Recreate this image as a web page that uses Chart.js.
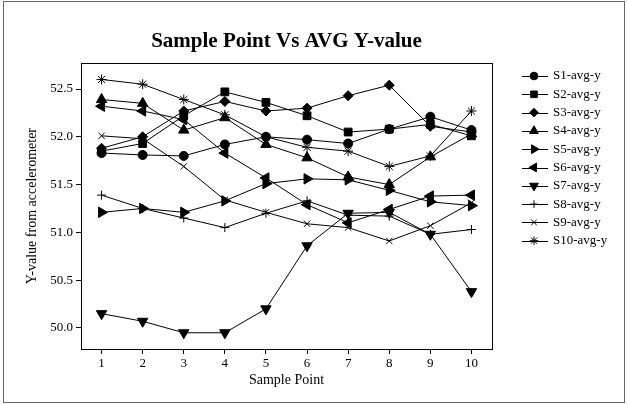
<!DOCTYPE html>
<html>
<head>
<meta charset="utf-8">
<script src="https://cdn.jsdelivr.net/npm/chart.js@4.4.0/dist/chart.umd.min.js"></script>
<style>
  html, body { margin: 0; padding: 0; background: #fff; }
  #wrap { width: 627px; height: 404px; position: relative; }
</style>
</head>
<body>
<div id="wrap"><canvas id="avgChart"></canvas></div>
<script>
// x positions and y tick labels
const samplePoints = [1, 2, 3, 4, 5, 6, 7, 8, 9, 10];
const yTicks = [50.0, 50.5, 51.0, 51.5, 52.0, 52.5];

// averaged Y values
const s1 = [51.83, 51.81, 51.80, 51.92, 52.00, 51.97, 51.93, 52.08, 52.21, 52.07];
const s2 = [51.85, 51.93, 52.22, 52.47, 52.36, 52.22, 52.05, 52.08, 52.13, 52.01];
const s3 = [51.88, 52.00, 52.27, 52.37, 52.27, 52.30, 52.43, 52.54, 52.11, 52.05];
const s4 = [52.39, 52.35, 52.07, 52.20, 51.92, 51.78, 51.58, 51.50, 51.79, 52.03];
const s5 = [51.21, 51.25, 51.21, 51.33, 51.51, 51.56, 51.55, 51.44, 51.32, 51.28];
const s6 = [52.32, 52.27, 52.18, 51.83, 51.57, 51.29, 51.10, 51.24, 51.38, 51.39];
const s7 = [50.15, 50.07, 49.95, 49.95, 50.20, 50.86, 51.20, 51.21, 50.98, 50.38];
const s8 = [51.39, 51.25, 51.15, 51.05, 51.20, 51.33, 51.18, 51.17, 50.98, 51.03];
const s9 = [52.01, 51.98, 51.69, 51.34, 51.21, 51.09, 51.05, 50.91, 51.07, 51.31];
const s10 = [52.60, 52.55, 52.39, 52.23, 52.00, 51.89, 51.85, 51.69, 51.80, 52.27];

const seriesNames = ["S1-avg-y", "S2-avg-y", "S3-avg-y", "S4-avg-y", "S5-avg-y",
                     "S6-avg-y", "S7-avg-y", "S8-avg-y", "S9-avg-y", "S10-avg-y"];
const seriesValues = [s1, s2, s3, s4, s5, s6, s7, s8, s9, s10];

// marker look for each series: [pointStyle, rotation, radius]
const markers = [
    ["circle", 0, 4.5],
    ["rect", 0, 5.5],
    ["rectRot", 0, 5],
    ["triangle", 0, 6],
    ["triangle", 90, 6],
    ["triangle", -90, 6],
    ["triangle", 180, 6],
    ["cross", 0, 4.5],
    ["crossRot", 0, 4.5],
    ["star", 0, 5]
];

const serif = "'Liberation Serif', 'Times New Roman', serif";

const datasets = seriesNames.map((name, i) => ({
    label: name,
    data: samplePoints.map((x, j) => ({ x: x, y: seriesValues[i][j] })),
    borderColor: "#000",
    backgroundColor: "#000",
    borderWidth: 1,
    pointStyle: markers[i][0],
    pointRotation: markers[i][1],
    pointRadius: markers[i][2],
    pointBorderWidth: 1,
    pointBorderColor: "#000",
    pointBackgroundColor: "#000",
    fill: false,
    tension: 0
}));

// box around plot + outer frame
const framePlugin = {
    id: "framePlugin",
    afterDraw(chart) {
        const ctx = chart.ctx;
        const a = chart.chartArea;
        ctx.save();
        ctx.strokeStyle = "#000";
        ctx.lineWidth = 1;
        ctx.strokeRect(Math.round(a.left) + 0.5, Math.round(a.top) + 0.5,
                       Math.round(a.right - a.left), Math.round(a.bottom - a.top));
        ctx.strokeStyle = "#666";
        ctx.strokeRect(3.5, 1.5, 621, 401);
        ctx.restore();
    }
};

// legend drawn as line + marker, like the original
const lineLegend = {
    id: "lineLegend",
    afterDraw(chart) {
        const ctx = chart.ctx;
        const x0 = chart.chartArea.right + 30;
        const x1 = x0 + 26;
        const mx = x0 + 12;
        ctx.save();
        chart.data.datasets.forEach((ds, i) => {
            const y = 76 + i * 18.3;
            ctx.strokeStyle = "#000";
            ctx.fillStyle = "#000";
            ctx.lineWidth = 1;
            ctx.beginPath();
            ctx.moveTo(x0, Math.round(y) + 0.5);
            ctx.lineTo(x1, Math.round(y) + 0.5);
            ctx.stroke();
            Chart.helpers.drawPoint(ctx, {
                pointStyle: ds.pointStyle,
                rotation: ds.pointRotation,
                radius: ds.pointRadius * 0.85,
                borderWidth: 1
            }, mx, y);
            ctx.font = "13px " + serif;
            ctx.textBaseline = "middle";
            ctx.textAlign = "left";
            ctx.fillText(ds.label, x1 + 5, y);
        });
        ctx.restore();
    }
};

const avgChart = new Chart(document.getElementById("avgChart").getContext("2d"), {
    type: "line",
    data: { datasets: datasets },
    options: {
        responsive: true,
        maintainAspectRatio: false,
        animation: false,
        layout: { padding: { left: 3, right: 135, top: 0, bottom: 0 } },
        plugins: {
            legend: { display: false },
            tooltip: { enabled: false },
            title: {
                display: true,
                text: "Sample Point Vs AVG Y-value",
                fullSize: false,
                color: "#000",
                font: { family: serif, size: 21, weight: "bold" },
                padding: { top: 29, bottom: 9 }
            }
        },
        scales: {
            x: {
                type: "linear",
                min: 0.5,
                max: 10.5,
                afterBuildTicks: (scale) => {
                    scale.ticks = samplePoints.map(v => ({ value: v }));
                },
                afterFit: (scale) => { scale.height = 55; },
                ticks: {
                    color: "#000",
                    font: { family: serif, size: 13 },
                    padding: 2,
                    callback: (v) => String(v)
                },
                grid: { drawOnChartArea: false, drawTicks: true, tickLength: 5, color: "#000" },
                border: { display: true, color: "#000" },
                title: {
                    display: true,
                    text: "Sample Point",
                    color: "#000",
                    font: { family: serif, size: 14 },
                    padding: { top: 0, bottom: 15 }
                }
            },
            y: {
                min: 49.78,
                max: 52.77,
                afterBuildTicks: (scale) => {
                    scale.ticks = yTicks.map(v => ({ value: v }));
                },
                afterFit: (scale) => { scale.width = 78; },
                ticks: {
                    color: "#000",
                    font: { family: serif, size: 13 },
                    padding: 3,
                    callback: (v) => Number(v).toFixed(1)
                },
                grid: { drawOnChartArea: false, drawTicks: true, tickLength: 5, color: "#000" },
                border: { display: true, color: "#000" },
                title: {
                    display: true,
                    text: "Y-value from accelerometer",
                    color: "#000",
                    font: { family: serif, size: 14 },
                    padding: { top: 21, bottom: 0 }
                }
            }
        }
    },
    plugins: [framePlugin, lineLegend]
});
</script>
</body>
</html>
